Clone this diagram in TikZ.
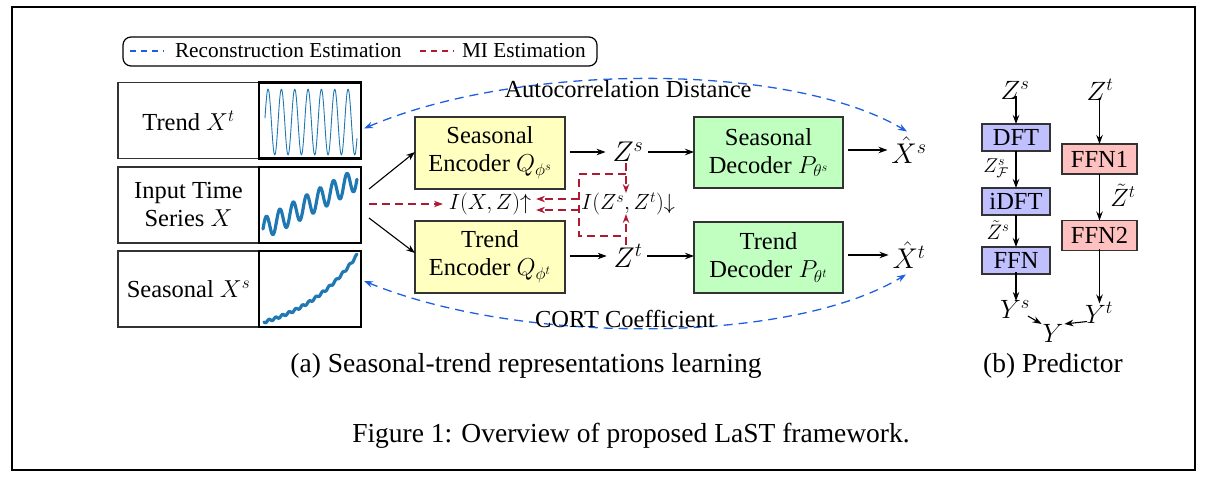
\RequirePackage{fix-cm}
\documentclass[tikz,border=0pt]{standalone}
\usepackage{fontspec}
\setmainfont{Liberation Serif}
\usetikzlibrary{arrows.meta}
\definecolor{encY}{RGB}{255,255,192}
\definecolor{decG}{RGB}{192,255,192}
\definecolor{prB}{RGB}{192,192,255}
\definecolor{prR}{RGB}{255,192,192}
\definecolor{plotblue}{RGB}{31,119,180}
\definecolor{recblue}{RGB}{30,95,225}
\definecolor{mired}{RGB}{175,25,50}
\begin{document}
\begin{tikzpicture}[x=1pt,y=-1pt,
  every node/.style={inner sep=0pt,outer sep=0pt},
  big/.style={font=\fontsize{24.5}{28}\selectfont},
  bigm/.style={font=\fontsize{28.5}{32}\selectfont},
  prm/.style={font=\fontsize{26.5}{30}\selectfont},
  mid/.style={font=\fontsize{22}{26}\selectfont},
  captxt/.style={font=\fontsize{27.5}{32}\selectfont},
  boxbase/.style={draw=black!80,line width=1.5pt,align=center,big},
  encbox/.style={boxbase,fill=encY,minimum width=150pt,minimum height=72pt},
  decbox/.style={boxbase,fill=decG,minimum width=149pt,minimum height=71pt},
  lblbox/.style={boxbase,minimum width=141pt,minimum height=76pt},
  pltbox/.style={draw=black,line width=2.6pt,minimum width=102pt,minimum height=76pt},
  pbox/.style={draw=black!80,line width=1.3pt,big,fill=prB,minimum width=68pt,minimum height=27pt},
  rbox/.style={draw=black!80,line width=1.3pt,big,fill=prR,minimum width=75pt,minimum height=30pt},
  arr/.style={-{Stealth[length=9pt,width=6.5pt]},line width=1.1pt},
  mi/.style={draw=mired,line width=1.3pt,dash pattern=on 8pt off 5pt},
  miarr/.style={mi,-{Stealth[length=9pt,width=6.5pt]}},
  rec/.style={draw=recblue,line width=1.3pt,dash pattern=on 9pt off 6pt,{Stealth[length=9pt,width=6.5pt]}-{Stealth[length=9pt,width=6.5pt]}},
  wave/.style={plotblue,line join=round,line cap=round}
]
\useasboundingbox (0,0) rectangle (1212,482);
% outer frame
\draw[line width=1.3pt] (12,7) rectangle (1195,470);

% legend
\draw[line width=1.2pt,rounded corners=8pt] (123,37) rectangle (597,66);
\coordinate (lb1) at (130,51); \coordinate (lb2) at (164,51);
\draw[draw=recblue,line width=1.3pt,dash pattern=on 6pt off 5pt] (lb1) -- (lb2);
\node[anchor=west,font=\fontsize{21.3}{25}\selectfont] (legrec) at (175,51) {Reconstruction Estimation};
\coordinate (lr1) at (420,51); \coordinate (lr2) at (454,51);
\draw[draw=mired,line width=1.3pt,dash pattern=on 6pt off 5pt] (lr1) -- (lr2);
\node[anchor=west,font=\fontsize{21.3}{25}\selectfont] (legmi) at (462,51) {MI Estimation};

% left boxes
\node[lblbox] (trL) at (188.5,120.5) {Trend $X^t$};
\node[pltbox] (trP) at (310,120.5) {};
\node[lblbox] (inL) at (188.5,205) {Input Time\\Series $X$};
\node[pltbox] (inP) at (310,205) {};
\node[lblbox] (seL) at (188.5,289) {Seasonal $X^s$};
\node[pltbox] (seP) at (310,289) {};

% plots
\draw[wave,line width=0.9pt] plot[smooth,domain=0:1,samples=160] ({265+92*\x},{122-33*sin(360*6.9*\x+7)});
\draw[wave,line width=3.2pt] plot[smooth,domain=0:1,samples=160] ({263+94*\x},{229-50*\x-11*sin(360*7*\x)});
\draw[wave,line width=3.2pt] plot[smooth,domain=0:1,samples=120] ({264+93*\x},{322-67*(exp(1.6*\x)-1)/(exp(1.6)-1)+1.2*sin(5000*\x)});

% encoders / decoders
\node[encbox] (senc) at (490,153) {Seasonal\\Encoder $Q_{\phi^s}$};
\node[encbox] (tenc) at (490,257) {Trend\\Encoder $Q_{\phi^t}$};
\node[decbox] (sdec) at (768.5,152.5) {Seasonal\\Decoder $P_{\theta^s}$};
\node[decbox] (tdec) at (768.5,257.5) {Trend\\Decoder $P_{\theta^t}$};

\node[bigm] (Zs) at (628,152) {$Z^s$};
\node[bigm] (Zt) at (628,256) {$Z^t$};
\node[bigm] (Xs) at (909,150) {$\hat{X}^s$};
\node[bigm] (Xt) at (909,255) {$\hat{X}^t$};

\node[mid] (MIx) at (490,204) {$I(X,Z)\Big\uparrow$};
\node[mid] (MIz) at (628,204) {$I(Z^s,Z^t)\Big\downarrow$};

% arrows main
\coordinate (inA) at (369,189);
\coordinate (inB) at (369,218);
\coordinate (inC) at (369,204);
\draw[arr] (inA) -- (senc.west |- 0,152) ;
\draw[arr] (inB) -- (tenc.west |- 0,253);
\draw[arr] ([xshift=5pt]senc.east |- Zs) -- ([xshift=-7pt]Zs.west);
\draw[arr] ([xshift=5pt]tenc.east |- Zt) -- ([xshift=-7pt]Zt.west);
\draw[arr] ([xshift=5pt]Zs.east) -- (sdec.west |- Zs);
\draw[arr] ([xshift=5pt]Zt.east) -- (tdec.west |- Zt);
\draw[arr] ([xshift=5pt]sdec.east |- Xs) -- ([xshift=-4pt]Xs.west);
\draw[arr] ([xshift=5pt]tdec.east |- Xt) -- ([xshift=-4pt]Xt.west);

% MI red dashed
\draw[miarr] (inC) -- ([xshift=-6pt]MIx.west);
\coordinate (mA) at (626,174); \coordinate (mB) at (579,174);
\coordinate (mC) at (579,236); \coordinate (mD) at (626,236);
\coordinate (mT1) at (626,193); \coordinate (mT2) at (626,214);
\coordinate (mS1) at (626,163); \coordinate (mS2) at (626,245);
\draw[mi] (mA) -- (mB) -- (mC) -- (mD);
\draw[miarr] (mS1) -- (mT1);
\draw[miarr] (mS2) -- (mT2);
\coordinate (mE) at (579,199); \coordinate (mF) at (579,210);
\draw[miarr] (mE) -- ([xshift=5pt]MIx.east |- mE);
\draw[miarr] (mF) -- ([xshift=5pt]MIx.east |- mF);

% reconstruction curves
\draw[rec] ([xshift=3pt,yshift=-8pt]trP.east) .. controls (520,62) and (790,62) .. ([xshift=-2pt,yshift=5pt]Xs.north);
\draw[rec] ([xshift=3pt,yshift=8pt]seP.east) .. controls (520,345) and (790,345) .. ([xshift=-3pt,yshift=-6pt]Xt.south);
\node[big] (acd) at (628,89) {Autocorrelation Distance};
\node[big] (cort) at (625,319) {CORT Coefficient};

% predictor
\node[prm] (pZs) at (1015,90) {$Z^s$};
\node[pbox] (dft) at (1016,137.5) {DFT};
\node[pbox] (idft) at (1016,201.5) {iDFT};
\node[pbox] (ffn) at (1016,260.5) {FFN};
\node[prm] (pYs) at (1015,309) {$Y^s$};
\node[prm] (pZt) at (1100,90) {$Z^t$};
\node[rbox] (ffn1) at (1099.5,159) {FFN1};
\node[rbox] (ffn2) at (1099.5,235.5) {FFN2};
\node[prm] (pYt) at (1099,313) {$Y^t$};
\node[prm] (pY) at (1053,333) {$Y$};
\node[font=\fontsize{20}{22}\selectfont] (lzf) at (996,168) {$Z^s_{\mathcal{F}}$};
\node[font=\fontsize{21}{24}\selectfont] (lzs) at (998,230) {$\tilde{Z}^s$};
\node[font=\fontsize{25}{28}\selectfont] (lzt) at (1123,195) {$\tilde{Z}^t$};

\draw[arr] ([yshift=3pt]pZs.south -| dft.north) -- (dft.north);
\draw[arr] (dft.south) -- (idft.north);
\draw[arr] (idft.south) -- (ffn.north);
\draw[arr] ([yshift=2pt]ffn.south) -- ([yshift=-1pt]pYs.north -| ffn.south);
\draw[arr] ([yshift=3pt]pZt.south -| ffn1.north) -- (ffn1.north);
\draw[arr] (ffn1.south) -- (ffn2.north);
\draw[arr] ([yshift=2pt]ffn2.south) -- ([yshift=-1pt]pYt.north -| ffn2.south);
\draw[arr] ([xshift=-2pt,yshift=2pt]pYs.south east) -- ([xshift=-1pt]pY.north west);
\draw[arr] ([xshift=2pt,yshift=2pt]pYt.south west) -- ([xshift=1pt]pY.north east);

% captions
\node[captxt] (capa) at (526,366) {(a) Seasonal-trend representations learning};
\node[captxt] (capb) at (1053,366) {(b) Predictor};
\node[captxt] (capf) at (631,436) {Figure 1: Overview of proposed LaST framework.};
\end{tikzpicture}
\end{document}
